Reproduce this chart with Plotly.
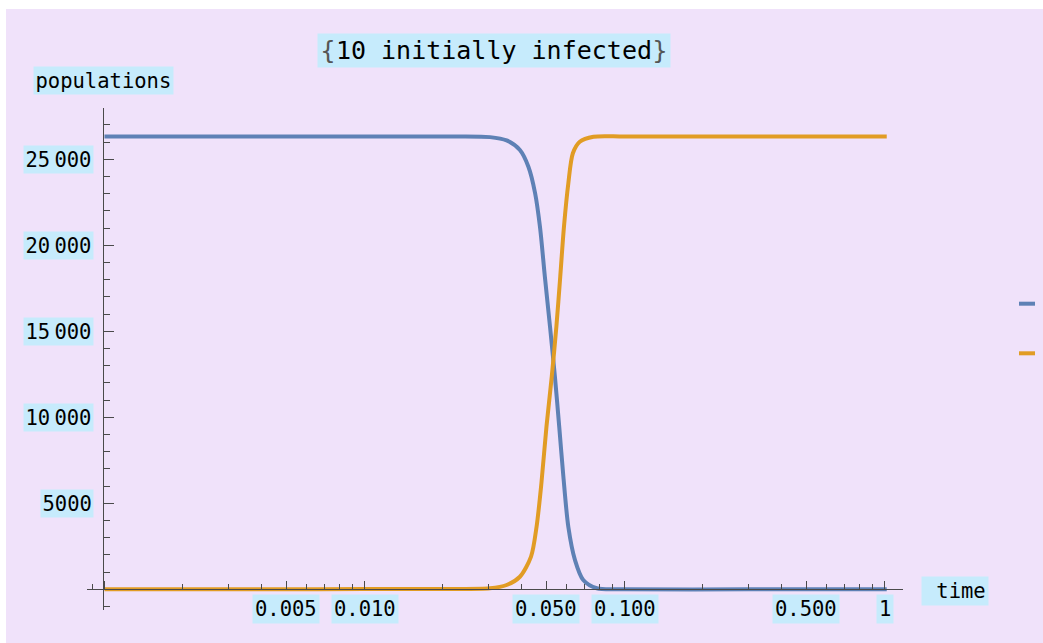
import numpy as np
import plotly.graph_objects as go

# ---------------- data ----------------
time_s = [0.001, 0.005, 0.01, 0.02, 0.0304, 0.0352, 0.0396, 0.0427, 0.0453, 0.0473,
          0.0494, 0.0517, 0.0540, 0.0561, 0.0582, 0.0608, 0.0645, 0.0694, 0.0782,
          0.1, 0.3, 1.02]
susceptible = [26330, 26330, 26330, 26320, 26290, 26100, 25540, 24570, 23040, 21080,
               18170, 15270, 12360, 9450, 6550, 3640, 1700, 540, 60,
               5, 0, 0]

time_i = [0.001, 0.005, 0.01, 0.02, 0.0304, 0.0352, 0.0396, 0.0437, 0.0459, 0.0479,
          0.0501, 0.0525, 0.0547, 0.0566, 0.0585, 0.0608, 0.0633, 0.0673, 0.0760,
          0.1, 0.3, 1.02]
infected = [10, 10, 12, 20, 60, 250, 730, 1900, 3640, 6160,
            9450, 12360, 15270, 18170, 21080, 23600, 25350, 26020, 26310,
            26325, 26330, 26330]

x_major = [0.001, 0.005, 0.01, 0.05, 0.1, 0.5, 1]
x_labels = {0.005: "0.005", 0.01: "0.010", 0.05: "0.050", 0.1: "0.100", 0.5: "0.500", 1: "1"}
x_minor = [0.0009, 0.002, 0.003, 0.004, 0.006, 0.007, 0.008, 0.009,
           0.02, 0.03, 0.04, 0.06, 0.07, 0.08, 0.09,
           0.2, 0.3, 0.4, 0.6, 0.7, 0.8, 0.9]
y_major = [5000, 10000, 15000, 20000, 25000]
y_labels = ["5000", "10 000", "15 000", "20 000", "25 000"]
y_minor = [-1000, 1000, 2000, 3000, 4000, 6000, 7000, 8000, 9000, 11000, 12000, 13000,
           14000, 16000, 17000, 18000, 19000, 21000, 22000, 23000, 24000, 26000, 27000]

title_text = "10 initially infected"
y_title = "populations"
x_title = "\u00a0time"

# ---------------- style ----------------
W, H = 1043, 643
BLUE = "#5E81B5"
ORANGE = "#E19C24"
BG = "#F0E2FA"
LABBG = "#C6EBFC"
AXC = "#4a4a4a"
FONT = "DejaVu Sans Mono"

def px(xp):
    return xp / W

def py(yp):
    return 1 - yp / H

x_dom = [px(86.7), px(902.7)]
y_dom = [py(610), py(108)]
x_rng = [(86.7 - 884.5) / 260.0, (902.7 - 884.5) / 260.0]
y_rng = [-1203, 27983]
# position where axes cross
y_axis_pos = px(102.7)
x_axis_pos = y_dom[0] + (0 - y_rng[0]) / (y_rng[1] - y_rng[0]) * (y_dom[1] - y_dom[0])

fig = go.Figure()
fig.add_trace(go.Scatter(x=time_s, y=susceptible, mode="lines",
                         line=dict(color=BLUE, width=4, shape="spline", smoothing=0.8),
                         showlegend=False, hoverinfo="skip"))
fig.add_trace(go.Scatter(x=time_i, y=infected, mode="lines",
                         line=dict(color=ORANGE, width=4, shape="spline", smoothing=0.8),
                         showlegend=False, hoverinfo="skip"))

LF = dict(family=FONT, size=20.5, color="#000")
annotations = []
for v, t in x_labels.items():
    annotations.append(dict(x=np.log10(v), xref="x", y=py(594), yref="paper",
                            text=t, showarrow=False, xanchor="center", yanchor="top",
                            font=LF, bgcolor=LABBG, borderpad=2))
for v, t in zip(y_major, y_labels):
    t = t.replace(" ", '<span style="font-size:7px">\u00a0</span>')
    annotations.append(dict(x=px(94), xref="paper", y=v, yref="y",
                            text=t, showarrow=False, xanchor="right", yanchor="middle",
                            font=LF, bgcolor=LABBG, borderpad=1.5))
annotations.append(dict(x=px(103), xref="paper", y=py(80.5), yref="paper",
                        text=y_title, showarrow=False, xanchor="center", yanchor="middle",
                        font=LF, bgcolor=LABBG, borderpad=1.5))
annotations.append(dict(x=px(955), xref="paper", y=py(591), yref="paper",
                        text=x_title, showarrow=False, xanchor="center", yanchor="middle",
                        font=LF, bgcolor=LABBG, borderpad=2))
brace = '<span style="font-family:DejaVu Sans;color:#555">%s</span>'
annotations.append(dict(x=px(493.5), xref="paper", y=py(50), yref="paper",
                        text=(brace % "{") + title_text + (brace % "}"),
                        showarrow=False, xanchor="center", yanchor="middle",
                        font=dict(family=FONT, size=25, color="#000"),
                        bgcolor=LABBG, borderpad=2))

shapes = [
    dict(type="rect", xref="paper", yref="paper", x0=px(6), x1=1, y0=0, y1=py(9),
         fillcolor=BG, line=dict(width=0), layer="below"),
    dict(type="line", xref="paper", yref="paper", x0=px(1019), x1=px(1035),
         y0=py(303.7), y1=py(303.7), line=dict(color=BLUE, width=4)),
    dict(type="line", xref="paper", yref="paper", x0=px(1019), x1=px(1035),
         y0=py(353.3), y1=py(353.3), line=dict(color=ORANGE, width=4)),
]

fig.update_layout(
    width=W, height=H,
    margin=dict(l=0, r=0, t=0, b=0, pad=0),
    paper_bgcolor="white",
    plot_bgcolor="rgba(0,0,0,0)",
    showlegend=False,
    annotations=annotations,
    shapes=shapes,
    xaxis=dict(type="log", range=x_rng, domain=x_dom, anchor="free", position=x_axis_pos,
               showline=True, linecolor=AXC, linewidth=1.3, showgrid=False, zeroline=False,
               ticks="inside", tickmode="array", tickvals=x_major, ticklen=8, tickwidth=1.2,
               tickcolor=AXC, showticklabels=False,
               minor=dict(tickmode="array", tickvals=x_minor, ticks="inside", ticklen=5,
                          tickwidth=1, tickcolor=AXC, showgrid=False)),
    yaxis=dict(range=y_rng, domain=y_dom, anchor="free", position=y_axis_pos,
               showline=True, linecolor=AXC, linewidth=1.3, showgrid=False, zeroline=False,
               ticks="inside", tickmode="array", tickvals=y_major, ticklen=10, tickwidth=1.2,
               tickcolor=AXC, showticklabels=False,
               minor=dict(tickmode="array", tickvals=y_minor, ticks="inside", ticklen=6,
                          tickwidth=1, tickcolor=AXC, showgrid=False)),
)

fig.write_html("out.html")
